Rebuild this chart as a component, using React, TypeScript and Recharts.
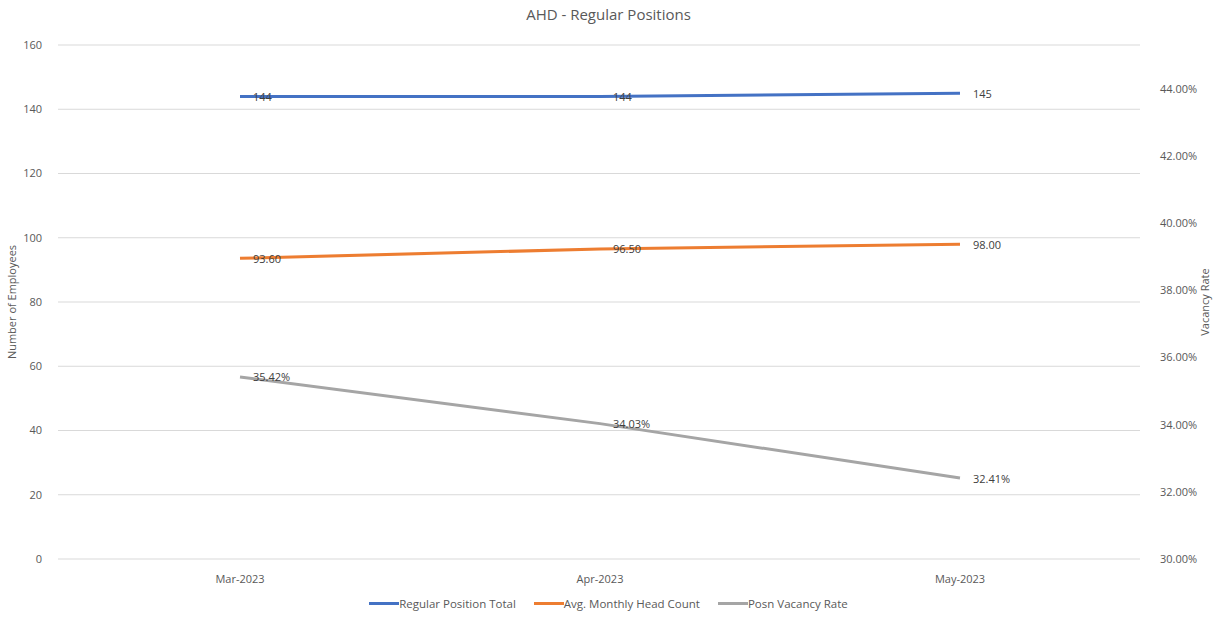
import React from "react";
import {
  CartesianGrid,
  ComposedChart,
  LabelList,
  Legend,
  Line,
  XAxis,
  YAxis,
} from "recharts";

const months = ["Mar-2023", "Apr-2023", "May-2023"];
const positionTotal = [144, 144, 145];
const headCount = [93.6, 96.5, 98.0];
const vacancyRate = [35.42, 34.03, 32.41];

const leftTicks = [0, 20, 40, 60, 80, 100, 120, 140, 160];
const rightTicks = [30, 32, 34, 36, 38, 40, 42, 44];

const series = [
  { key: "total", name: "Regular Position Total", color: "#4472C4" },
  { key: "head", name: "Avg. Monthly Head Count", color: "#ED7D31" },
  { key: "rate", name: "Posn Vacancy Rate", color: "#A5A5A5" },
];

const data = months.map((m, i) => ({
  month: m,
  total: positionTotal[i],
  head: headCount[i],
  rate: vacancyRate[i],
}));

const FONT = "'Open Sans', 'Noto Sans', sans-serif";
const tickStyle = { fill: "#595959", fontSize: 11, fontFamily: FONT };

function makeLabel(fmt: (v: number) => string) {
  return (props: any) => {
    const { x, y, value } = props;
    return (
      <text
        x={x + 13}
        y={y}
        dominantBaseline="central"
        fill="#404040"
        fontSize={11}
        fontFamily={FONT}
      >
        {fmt(Number(value))}
      </text>
    );
  };
}

function LegendBox() {
  return (
    <div
      style={{
        display: "flex",
        justifyContent: "center",
        gap: 18,
        fontFamily: FONT,
        fontSize: 11.5,
        color: "#595959",
        marginTop: 7,
        paddingLeft: 0,
      }}
    >
      {series.map((s) => (
        <div key={s.key} style={{ display: "flex", alignItems: "center" }}>
          <span
            style={{
              display: "inline-block",
              width: 30,
              height: 3,
              background: s.color,
            }}
          />
          <span>{s.name}</span>
        </div>
      ))}
    </div>
  );
}

export default function App() {
  return (
    <div style={{ position: "absolute", left: 0, top: 0, width: 1217, height: 617, background: "#fff" }}>
      <div
        style={{
          position: "absolute",
          top: 4,
          width: 1217,
          textAlign: "center",
          fontFamily: FONT,
          fontSize: 15,
          color: "#595959",
        }}
      >
        AHD - Regular Positions
      </div>
      <ComposedChart
        width={1217}
        height={617}
        data={data}
        margin={{ top: 45, right: 0, bottom: 6, left: 0 }}
      >
        <CartesianGrid yAxisId="left" vertical={false} stroke="#d9d9d9" />
        <XAxis
          dataKey="month"
          axisLine={false}
          tickLine={false}
          tick={tickStyle}
          tickMargin={10}
          height={30}
          padding={{ left: 182, right: 180 }}
        />
        <YAxis
          yAxisId="left"
          domain={[0, 160]}
          ticks={leftTicks}
          axisLine={false}
          tickLine={false}
          tick={tickStyle}
          width={58}
          tickMargin={10}
          label={{
            value: "Number of Employees",
            angle: -90,
            position: "insideLeft",
            offset: 12,
            style: { fill: "#595959", fontSize: 11, fontFamily: FONT, textAnchor: "middle" },
          }}
        />
        <YAxis
          yAxisId="right"
          orientation="right"
          domain={[30, 45.3]}
          ticks={rightTicks}
          allowDataOverflow
          axisLine={false}
          tickLine={false}
          tick={tickStyle}
          tickFormatter={(v: number) => `${v.toFixed(2)}%`}
          width={77}
          tickMargin={14}
          label={{
            value: "Vacancy Rate",
            angle: -90,
            position: "insideRight",
            offset: 12,
            style: { fill: "#595959", fontSize: 11, fontFamily: FONT, textAnchor: "middle" },
          }}
        />
        <Legend verticalAlign="bottom" height={22} content={() => <LegendBox />} />
        <Line
          yAxisId="left"
          dataKey="total"
          name={series[0].name}
          stroke={series[0].color}
          strokeWidth={3}
          dot={false}
          isAnimationActive={false}
        >
          <LabelList dataKey="total" content={makeLabel((v) => String(v))} />
        </Line>
        <Line
          yAxisId="left"
          dataKey="head"
          name={series[1].name}
          stroke={series[1].color}
          strokeWidth={3}
          dot={false}
          isAnimationActive={false}
        >
          <LabelList dataKey="head" content={makeLabel((v) => v.toFixed(2))} />
        </Line>
        <Line
          yAxisId="right"
          dataKey="rate"
          name={series[2].name}
          stroke={series[2].color}
          strokeWidth={3}
          dot={false}
          isAnimationActive={false}
        >
          <LabelList dataKey="rate" content={makeLabel((v) => `${v.toFixed(2)}%`)} />
        </Line>
      </ComposedChart>
    </div>
  );
}
